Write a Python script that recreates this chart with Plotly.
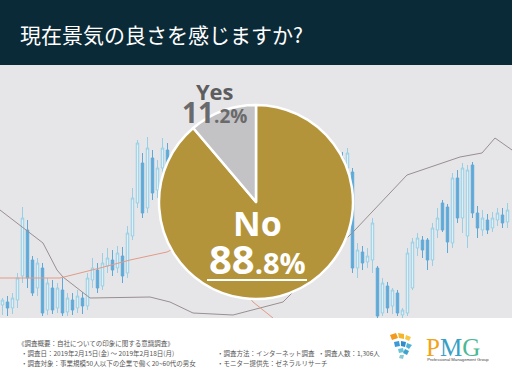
import plotly.graph_objects as go

# ---------------- data ----------------
title_text = "現在景気の良さを感じますか?"
pie_labels = ["No", "Yes"]
pie_values = [88.8, 11.2]
pie_colors = ["#b4943b", "#c3c2c4"]

# decorative background candles (price units, index positions)
c_open = [13, 16, 10, 18, 42, 88, 58, 30, 50, 8, 30, 10, 28, 6, 18, 10, 20, 12, 38, 48, 32, 52, 58, 50, 62, 45, 82, 115, 155, 110, 160, 128,
          150, 168, 140, 155, 135, 150, 165, 150, 170, 155, 140, 120, 135, 115, 125, 110, 130, 145, 130, 150, 160, 145, 125, 110, 95, 110, 100, 120, 135, 125, 140, 130, 150, 140, 155, 145, 160, 150,
          146, 50, 66, 56, 58, 50, 5, 32, 12, 25, 3, 5, 30, 70, 78, 78, 58, 88, 115, 111, 75, 140, 100, 82, 153, 105, 88, 98, 90, 98, 103, 96]
c_close = [18, 10, 20, 40, 100, 40, 25, 55, 5, 35, 8, 30, 5, 20, 8, 22, 12, 40, 50, 30, 55, 60, 48, 65, 42, 85, 120, 175, 105, 170, 125, 150,
           170, 140, 155, 135, 150, 165, 150, 170, 155, 140, 120, 135, 115, 125, 110, 130, 145, 130, 150, 160, 145, 125, 110, 95, 110, 100, 120, 135, 125, 140, 130, 150, 140, 155, 145, 160, 150, 165,
           50, 68, 55, 62, 95, 2, 35, 10, 28, 5, 8, 65, 76, 80, 68, 58, 90, 100, 88, 76, 140, 100, 150, 148, 105, 90, 100, 88, 100, 105, 95, 108]
c_high = [20, 22, 25, 45, 111, 98, 62, 60, 55, 40, 38, 35, 40, 25, 25, 28, 26, 45, 60, 55, 65, 70, 68, 72, 71, 92, 130, 178, 165, 181, 168, 158,
          180, 175, 165, 160, 158, 172, 172, 178, 178, 160, 145, 142, 140, 132, 130, 138, 152, 150, 158, 168, 165, 150, 130, 115, 118, 115, 126, 140, 142, 148, 146, 155, 158, 162, 160, 165, 166, 170,
          150, 75, 72, 70, 100, 52, 40, 36, 30, 28, 10, 70, 80, 85, 82, 80, 95, 110, 118, 114, 145, 148, 155, 153, 156, 112, 108, 104, 106, 110, 110, 115]
c_low = [3, 2, 4, 10, 35, 30, 22, 22, 2, 3, 4, 5, 2, 2, 3, 5, 4, 8, 30, 25, 28, 45, 42, 45, 35, 40, 78, 110, 100, 105, 118, 120,
         140, 130, 130, 125, 128, 145, 140, 145, 148, 130, 110, 112, 105, 108, 100, 105, 125, 120, 125, 145, 138, 118, 100, 85, 88, 92, 95, 115, 118, 120, 122, 125, 132, 135, 138, 140, 145, 120,
         45, 40, 48, 50, 45, 0, 2, 5, 4, 2, 0, 2, 28, 62, 60, 48, 52, 80, 86, 65, 70, 95, 85, 70, 100, 80, 82, 84, 86, 92, 90, 90]
c_index = list(range(len(c_open)))

gray_line_x = [-0.5, 8.1, 10.9, 12.1, 17.5, 25.5, 29.5, 33.5, 38.1, 46.1, 51.5, 56.1, 70.5, 80.9, 91.5, 95.9, 98.5, 101.9]
gray_line_y = [108, 75, 48, 41, 20, 21, 21, 16, 5, 3, 10, 16, 88, 143, 161, 165, 180, 168]
red_line_x = [-0.5, 11.5, 19.5, 25.5, 32.9, 34.5, 39.5, 46.5, 50.1, 54.1]
red_line_y = [40, 40, 50, 58, 66, 70, 62, 40, 16, 0]

footer_lines = [
    "《調査概要：自社についての印象に関する意識調査》",
    "・調査日：2019年2月15日(金) 〜 2019年2月18日(月)",
    "・調査対象：事業規模50人以下の企業で働く20~60代の男女",
]
footer_right = ["・調査方法：インターネット調査", "・モニター提供先：ゼネラルリサーチ"]
footer_count = "・調査人数：1,306人"

W, H = 512, 384
def px(x):
    return x / W
def py(y):
    return 1 - y / H

fig = go.Figure()

fig.add_trace(go.Candlestick(
    x=c_index, open=c_open, high=c_high, low=c_low, close=c_close,
    increasing=dict(line=dict(color="#97cfe6", width=1), fillcolor="#dcf0f7"),
    decreasing=dict(line=dict(color="#5fa9d9", width=1), fillcolor="#5fa9d9"),
    whiskerwidth=0, showlegend=False, hoverinfo="skip",
    xaxis="x", yaxis="y"))
fig.add_trace(go.Scatter(x=gray_line_x, y=gray_line_y, mode="lines",
                         line=dict(color="#9a8e90", width=1), showlegend=False, hoverinfo="skip"))
fig.add_trace(go.Scatter(x=red_line_x, y=red_line_y, mode="lines",
                         line=dict(color="#e29a88", width=1), showlegend=False, hoverinfo="skip"))

fig.add_trace(go.Pie(
    labels=pie_labels, values=pie_values, sort=False, direction="counterclockwise", rotation=0,
    marker=dict(colors=pie_colors, line=dict(color="white", width=2.5)),
    textinfo="none", hoverinfo="skip", showlegend=False,
    domain=dict(x=[px(159), px(353)], y=[py(299), py(105)])))

shapes = [
    dict(type="rect", xref="paper", yref="paper", x0=0, x1=1, y0=py(65), y1=1,
         fillcolor="#0b2a37", line=dict(width=0), layer="below"),
    dict(type="rect", xref="paper", yref="paper", x0=0, x1=1, y0=py(318), y1=py(65),
         fillcolor="#e6e6e8", line=dict(width=0), layer="below"),
    # underline under 88.8%
    dict(type="line", xref="paper", yref="paper", x0=px(207), x1=px(307), y0=py(280), y1=py(280),
         line=dict(color="white", width=2)),
]
# PMG logo icon (decorative arcs)
icon_parts = [
    ("#f29a1f", "M 390 335 L 396 333 L 398 338 L 392 340 Z"),
    ("#f5b52a", "M 398 333 L 404 334 L 404 339 L 399 338 Z"),
    ("#f7c942", "M 406 335 L 411 337 L 409 341 L 405 339 Z"),
    ("#3c9bd6", "M 394 342 L 399 341 L 400 346 L 395 347 Z"),
    ("#2f8ccd", "M 401 341 L 406 342 L 405 347 L 401 346 Z"),
    ("#4fb3d9", "M 407 343 L 412 345 L 409 349 L 406 347 Z"),
    ("#6cc3d8", "M 398 349 L 403 348 L 404 352 L 399 353 Z"),
    ("#3fa3c9", "M 405 349 L 409 351 L 407 355 L 403 353 Z"),
    ("#88cbd2", "M 400 355 L 404 355 L 403 359 L 399 358 Z"),
]
for col, path in icon_parts:
    toks = path.split()
    out = []
    i = 0
    while i < len(toks):
        t = toks[i]
        if t in ("M", "L"):
            x = float(toks[i + 1]) / W
            y = 1 - float(toks[i + 2]) / H
            out.append(f"{t} {x:.5f} {y:.5f}")
            i += 3
        else:
            out.append(t)
            i += 1
    shapes.append(dict(type="path", xref="paper", yref="paper", path=" ".join(out),
                       fillcolor=col, line=dict(width=0)))

ann = []
ann.append(dict(x=px(18), y=py(34), xanchor="left", yanchor="middle", text=title_text,
                font=dict(family="Noto Sans CJK JP", size=21, color="white")))
# Yes / 11.2%  (one block, two lines)
ann.append(dict(x=px(214), y=py(104), xanchor="center", yanchor="middle", align="center",
                text="<b><span style='font-size:22px;fill:#5d5d5f'>Yes</span><br>"
                     "<span style='font-size:28px'>11</span><span style='font-size:19px'>.2%</span></b>",
                font=dict(family="Open Sans", size=18, color="#6a6a6c")))
# No / 88.8%
ann.append(dict(x=px(257), y=py(243), xanchor="center", yanchor="middle", align="center",
                text="<b><span style='font-size:34px'>No</span><br>"
                     "<span style='font-size:40px'>88</span><span style='font-size:29px'>.8%</span></b>",
                font=dict(family="Open Sans", size=29, color="white")))
for i, line in enumerate(footer_lines):
    ann.append(dict(x=px(16 if i == 0 else 19), y=py(343 + 10 * i), xanchor="left", yanchor="middle",
                    text=line, font=dict(family="Noto Sans CJK JP", size=6.5, color="#555555")))
for i, line in enumerate(footer_right):
    ann.append(dict(x=px(215), y=py(353 + 10 * i), xanchor="left", yanchor="middle",
                    text=line, font=dict(family="Noto Sans CJK JP", size=6.5, color="#555555")))
ann.append(dict(x=px(316), y=py(353), xanchor="left", yanchor="middle",
                text=footer_count, font=dict(family="Noto Sans CJK JP", size=6.5, color="#555555")))
# PMG wordmark + tagline in one block
ann.append(dict(x=px(424), y=py(348), xanchor="left", yanchor="middle", align="left",
                text="<span style='font-family:Liberation Serif;font-size:25px'>"
                     "<span style='fill:#f2a31c'>P</span><span style='fill:#3a9fc6'>M</span>"
                     "<span style='fill:#4cb896'>G</span></span><br>"
                     "<span style='fill:#444444'> Professional Management Group</span>",
                font=dict(family="Liberation Sans", size=4.2, color="#444444")))
for a in ann:
    a.update(xref="paper", yref="paper", showarrow=False)

fig.update_layout(
    width=W, height=H, margin=dict(l=0, r=0, t=0, b=0),
    paper_bgcolor="white", plot_bgcolor="rgba(0,0,0,0)",
    xaxis=dict(domain=[0, 1], range=[-0.5, 101.9], visible=False, rangeslider=dict(visible=False), fixedrange=True),
    yaxis=dict(domain=[py(318), py(65)], range=[0, 253], visible=False, fixedrange=True),
    shapes=shapes, annotations=ann,
)

fig.write_html("out.html", config={"displayModeBar": False},
               post_script="document.body.style.margin='0';document.body.style.overflow='hidden';")
